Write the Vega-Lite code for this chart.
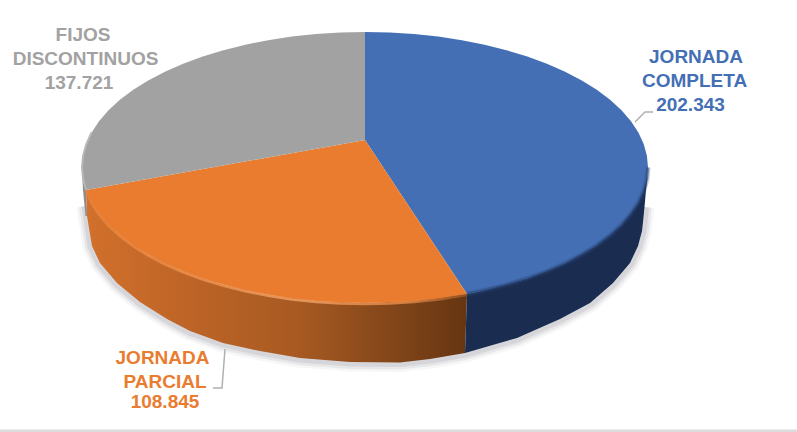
{"$schema":"https://vega.github.io/schema/vega-lite/v6.json","width":797,"height":432,"padding":0,"autosize":"none","background":"white","config":{"view":{"stroke":null}},
"datasets":{
"top":[
{"slice":"JORNADA COMPLETA","i":0,"x":365,"y":140},{"slice":"JORNADA COMPLETA","i":1,"x":365,"y":32},{"slice":"JORNADA COMPLETA","i":2,"x":389.7,"y":32.5},{"slice":"JORNADA COMPLETA","i":3,"x":414.1,"y":34},{"slice":"JORNADA COMPLETA","i":4,"x":438.2,"y":36.6},{"slice":"JORNADA COMPLETA","i":5,"x":461.8,"y":40.2},{"slice":"JORNADA COMPLETA","i":6,"x":484.6,"y":44.7},{"slice":"JORNADA COMPLETA","i":7,"x":506.5,"y":50.2},{"slice":"JORNADA COMPLETA","i":8,"x":527.3,"y":56.5},{"slice":"JORNADA COMPLETA","i":9,"x":546.9,"y":63.7},{"slice":"JORNADA COMPLETA","i":10,"x":565.1,"y":71.7},{"slice":"JORNADA COMPLETA","i":11,"x":581.8,"y":80.4},{"slice":"JORNADA COMPLETA","i":12,"x":596.8,"y":89.7},{"slice":"JORNADA COMPLETA","i":13,"x":610.1,"y":99.7},{"slice":"JORNADA COMPLETA","i":14,"x":621.5,"y":110.2},{"slice":"JORNADA COMPLETA","i":15,"x":631,"y":121.2},{"slice":"JORNADA COMPLETA","i":16,"x":638.4,"y":132.4},{"slice":"JORNADA COMPLETA","i":17,"x":643.7,"y":144},{"slice":"JORNADA COMPLETA","i":18,"x":646.9,"y":155.7},{"slice":"JORNADA COMPLETA","i":19,"x":648,"y":167.5},{"slice":"JORNADA COMPLETA","i":20,"x":646.9,"y":179.3},{"slice":"JORNADA COMPLETA","i":21,"x":643.7,"y":191},{"slice":"JORNADA COMPLETA","i":22,"x":638.4,"y":202.6},{"slice":"JORNADA COMPLETA","i":23,"x":631,"y":213.8},{"slice":"JORNADA COMPLETA","i":24,"x":621.5,"y":224.8},{"slice":"JORNADA COMPLETA","i":25,"x":610.1,"y":235.3},{"slice":"JORNADA COMPLETA","i":26,"x":596.8,"y":245.3},{"slice":"JORNADA COMPLETA","i":27,"x":581.8,"y":254.6},{"slice":"JORNADA COMPLETA","i":28,"x":565.1,"y":263.3},{"slice":"JORNADA COMPLETA","i":29,"x":546.9,"y":271.3},{"slice":"JORNADA COMPLETA","i":30,"x":527.3,"y":278.5},{"slice":"JORNADA COMPLETA","i":31,"x":506.5,"y":284.8},{"slice":"JORNADA COMPLETA","i":32,"x":484.6,"y":290.3},{"slice":"JORNADA COMPLETA","i":33,"x":467,"y":294},
{"slice":"JORNADA PARCIAL","i":0,"x":365,"y":140},{"slice":"JORNADA PARCIAL","i":1,"x":467,"y":294},{"slice":"JORNADA PARCIAL","i":2,"x":438.2,"y":298.4},{"slice":"JORNADA PARCIAL","i":3,"x":414.1,"y":301},{"slice":"JORNADA PARCIAL","i":4,"x":389.7,"y":302.5},{"slice":"JORNADA PARCIAL","i":5,"x":365,"y":303},{"slice":"JORNADA PARCIAL","i":6,"x":340.3,"y":302.5},{"slice":"JORNADA PARCIAL","i":7,"x":315.9,"y":301},{"slice":"JORNADA PARCIAL","i":8,"x":291.8,"y":298.4},{"slice":"JORNADA PARCIAL","i":9,"x":268.2,"y":294.8},{"slice":"JORNADA PARCIAL","i":10,"x":245.4,"y":290.3},{"slice":"JORNADA PARCIAL","i":11,"x":223.5,"y":284.8},{"slice":"JORNADA PARCIAL","i":12,"x":202.7,"y":278.5},{"slice":"JORNADA PARCIAL","i":13,"x":183.1,"y":271.3},{"slice":"JORNADA PARCIAL","i":14,"x":164.9,"y":263.3},{"slice":"JORNADA PARCIAL","i":15,"x":148.2,"y":254.6},{"slice":"JORNADA PARCIAL","i":16,"x":133.2,"y":245.3},{"slice":"JORNADA PARCIAL","i":17,"x":119.9,"y":235.3},{"slice":"JORNADA PARCIAL","i":18,"x":108.5,"y":224.8},{"slice":"JORNADA PARCIAL","i":19,"x":99,"y":213.8},{"slice":"JORNADA PARCIAL","i":20,"x":91.6,"y":202.6},{"slice":"JORNADA PARCIAL","i":21,"x":86,"y":190},
{"slice":"FIJOS DISCONTINUOS","i":0,"x":365,"y":140},{"slice":"FIJOS DISCONTINUOS","i":1,"x":86,"y":190},{"slice":"FIJOS DISCONTINUOS","i":2,"x":83.1,"y":179.3},{"slice":"FIJOS DISCONTINUOS","i":3,"x":82,"y":167.5},{"slice":"FIJOS DISCONTINUOS","i":4,"x":83.1,"y":155.7},{"slice":"FIJOS DISCONTINUOS","i":5,"x":86.3,"y":144},{"slice":"FIJOS DISCONTINUOS","i":6,"x":91.6,"y":132.4},{"slice":"FIJOS DISCONTINUOS","i":7,"x":99,"y":121.2},{"slice":"FIJOS DISCONTINUOS","i":8,"x":108.5,"y":110.2},{"slice":"FIJOS DISCONTINUOS","i":9,"x":119.9,"y":99.7},{"slice":"FIJOS DISCONTINUOS","i":10,"x":133.2,"y":89.7},{"slice":"FIJOS DISCONTINUOS","i":11,"x":148.2,"y":80.4},{"slice":"FIJOS DISCONTINUOS","i":12,"x":164.9,"y":71.7},{"slice":"FIJOS DISCONTINUOS","i":13,"x":183.1,"y":63.7},{"slice":"FIJOS DISCONTINUOS","i":14,"x":202.7,"y":56.5},{"slice":"FIJOS DISCONTINUOS","i":15,"x":223.5,"y":50.2},{"slice":"FIJOS DISCONTINUOS","i":16,"x":245.4,"y":44.7},{"slice":"FIJOS DISCONTINUOS","i":17,"x":268.2,"y":40.2},{"slice":"FIJOS DISCONTINUOS","i":18,"x":291.8,"y":36.6},{"slice":"FIJOS DISCONTINUOS","i":19,"x":315.9,"y":34},{"slice":"FIJOS DISCONTINUOS","i":20,"x":340.3,"y":32.5},{"slice":"FIJOS DISCONTINUOS","i":21,"x":365,"y":32}
],
"side":[
{"part":"blue","i":0,"x":648,"y":172},{"part":"blue","i":1,"x":646,"y":190},{"part":"blue","i":2,"x":644.5,"y":207},{"part":"blue","i":3,"x":643,"y":222},{"part":"blue","i":4,"x":642,"y":231},{"part":"blue","i":5,"x":638,"y":246},{"part":"blue","i":6,"x":630,"y":263},{"part":"blue","i":7,"x":613,"y":283},{"part":"blue","i":8,"x":590,"y":303},{"part":"blue","i":9,"x":560,"y":319},{"part":"blue","i":10,"x":517,"y":338},{"part":"blue","i":11,"x":465,"y":353},{"part":"blue","i":12,"x":467,"y":294},{"part":"blue","i":13,"x":484.6,"y":290.3},{"part":"blue","i":14,"x":527.3,"y":278.5},{"part":"blue","i":15,"x":565.1,"y":263.3},{"part":"blue","i":16,"x":596.8,"y":245.3},{"part":"blue","i":17,"x":621.5,"y":224.8},{"part":"blue","i":18,"x":638.4,"y":202.6},{"part":"blue","i":19,"x":646.9,"y":179.3},
{"part":"orange","i":0,"x":467,"y":294},{"part":"orange","i":1,"x":465,"y":353},{"part":"orange","i":2,"x":430,"y":359},{"part":"orange","i":3,"x":400,"y":362.5},{"part":"orange","i":4,"x":350,"y":362},{"part":"orange","i":5,"x":300,"y":358},{"part":"orange","i":6,"x":260,"y":351},{"part":"orange","i":7,"x":223,"y":343},{"part":"orange","i":8,"x":190,"y":331},{"part":"orange","i":9,"x":167,"y":319},{"part":"orange","i":10,"x":140,"y":302},{"part":"orange","i":11,"x":117,"y":283},{"part":"orange","i":12,"x":100,"y":263},{"part":"orange","i":13,"x":92,"y":246},{"part":"orange","i":14,"x":87,"y":216},{"part":"orange","i":15,"x":86,"y":190},{"part":"orange","i":16,"x":99,"y":213.8},{"part":"orange","i":17,"x":119.9,"y":235.3},{"part":"orange","i":18,"x":148.2,"y":254.6},{"part":"orange","i":19,"x":183.1,"y":271.3},{"part":"orange","i":20,"x":223.5,"y":284.8},{"part":"orange","i":21,"x":268.2,"y":294.8},{"part":"orange","i":22,"x":315.9,"y":301},{"part":"orange","i":23,"x":365,"y":303},{"part":"orange","i":24,"x":414.1,"y":301},
{"part":"gray","i":0,"x":82,"y":170},{"part":"gray","i":1,"x":83,"y":190},{"part":"gray","i":2,"x":85.5,"y":216},{"part":"gray","i":3,"x":87,"y":216},{"part":"gray","i":4,"x":86,"y":190}
],
"edge":[
{"i":2,"x":86,"y":206},{"i":3,"x":92,"y":246},{"i":4,"x":100,"y":263},{"i":5,"x":117,"y":283},{"i":6,"x":140,"y":302},{"i":7,"x":167,"y":319},{"i":8,"x":190,"y":331},{"i":9,"x":223,"y":343},{"i":10,"x":260,"y":351},{"i":11,"x":300,"y":358},{"i":12,"x":350,"y":362},{"i":13,"x":400,"y":362.5},{"i":14,"x":430,"y":359},{"i":15,"x":465,"y":353},{"i":16,"x":517,"y":338},{"i":17,"x":560,"y":319},{"i":18,"x":590,"y":303},{"i":19,"x":613,"y":283},{"i":20,"x":630,"y":263},{"i":21,"x":638,"y":246},{"i":22,"x":642,"y":231},{"i":23,"x":643,"y":222},{"i":24,"x":644.5,"y":207}
],
"rim":[
{"part":"blue","i":0,"x":648,"y":167.5},{"part":"blue","i":1,"x":646.9,"y":179.3},{"part":"blue","i":2,"x":643.7,"y":191},{"part":"blue","i":3,"x":638.4,"y":202.6},{"part":"blue","i":4,"x":631,"y":213.8},{"part":"blue","i":5,"x":621.5,"y":224.8},{"part":"blue","i":6,"x":610.1,"y":235.3},{"part":"blue","i":7,"x":596.8,"y":245.3},{"part":"blue","i":8,"x":581.8,"y":254.6},{"part":"blue","i":9,"x":565.1,"y":263.3},{"part":"blue","i":10,"x":546.9,"y":271.3},{"part":"blue","i":11,"x":527.3,"y":278.5},{"part":"blue","i":12,"x":506.5,"y":284.8},{"part":"blue","i":13,"x":484.6,"y":290.3},{"part":"blue","i":14,"x":467,"y":294},
{"part":"orange","i":0,"x":467,"y":295},{"part":"orange","i":1,"x":438.2,"y":299.4},{"part":"orange","i":2,"x":414.1,"y":302},{"part":"orange","i":3,"x":389.7,"y":303.5},{"part":"orange","i":4,"x":365,"y":304},{"part":"orange","i":5,"x":340.3,"y":303.5},{"part":"orange","i":6,"x":315.9,"y":302},{"part":"orange","i":7,"x":291.8,"y":299.4},{"part":"orange","i":8,"x":268.2,"y":295.8},{"part":"orange","i":9,"x":245.4,"y":291.3},{"part":"orange","i":10,"x":223.5,"y":285.8},{"part":"orange","i":11,"x":202.7,"y":279.5},{"part":"orange","i":12,"x":183.1,"y":272.3},{"part":"orange","i":13,"x":164.9,"y":264.3},{"part":"orange","i":14,"x":148.2,"y":255.6},{"part":"orange","i":15,"x":133.2,"y":246.3},{"part":"orange","i":16,"x":119.9,"y":236.3},{"part":"orange","i":17,"x":108.5,"y":225.8},{"part":"orange","i":18,"x":99,"y":214.8},{"part":"orange","i":19,"x":91.6,"y":203.6},{"part":"orange","i":20,"x":86,"y":191},
{"part":"gray","i":0,"x":86,"y":190},{"part":"gray","i":1,"x":83.1,"y":179.3},{"part":"gray","i":2,"x":82,"y":167.5},{"part":"gray","i":3,"x":83.1,"y":155.7},{"part":"gray","i":4,"x":86.3,"y":144},{"part":"gray","i":5,"x":91.6,"y":132.4}
],
"leaders":[
{"slice":"JORNADA COMPLETA","i":0,"x":635,"y":122},{"slice":"JORNADA COMPLETA","i":1,"x":645,"y":112},{"slice":"JORNADA COMPLETA","i":2,"x":653,"y":112},
{"slice":"JORNADA PARCIAL","i":0,"x":225,"y":349},{"slice":"JORNADA PARCIAL","i":1,"x":222,"y":388},{"slice":"JORNADA PARCIAL","i":2,"x":213,"y":388}
],
"labels":[
{"slice":"FIJOS DISCONTINUOS","text":"FIJOS","x":83,"y":35},{"slice":"FIJOS DISCONTINUOS","text":"DISCONTINUOS","x":85.5,"y":59},{"slice":"FIJOS DISCONTINUOS","text":"137.721","x":79,"y":83},
{"slice":"JORNADA COMPLETA","text":"JORNADA","x":696,"y":57},{"slice":"JORNADA COMPLETA","text":"COMPLETA","x":694.5,"y":81},{"slice":"JORNADA COMPLETA","text":"202.343","x":690.5,"y":105},
{"slice":"JORNADA PARCIAL","text":"JORNADA","x":162.5,"y":358},{"slice":"JORNADA PARCIAL","text":"PARCIAL","x":165,"y":382},{"slice":"JORNADA PARCIAL","text":"108.845","x":165,"y":402}
],
"band":[{"x":0,"x2":797,"y":431}]
},
"encoding":{
"x":{"field":"x","type":"quantitative","scale":{"domain":[0,797]},"axis":null},
"y":{"field":"y","type":"quantitative","scale":{"domain":[432,0]},"axis":null},
"order":{"field":"i","type":"quantitative"}
},
"resolve":{"scale":{"color":"shared"}},
"layer":[
{"data":{"name":"band"},"mark":{"type":"rule","stroke":"#dcdcdc","strokeWidth":3},"encoding":{"order":null,"x2":{"field":"x2"}}},
{"data":{"name":"edge"},"mark":{"type":"line","stroke":"#9a9aa2","strokeWidth":19,"opacity":0.09}},
{"data":{"name":"edge"},"mark":{"type":"line","stroke":"#9a9aa2","strokeWidth":14,"opacity":0.16}},
{"data":{"name":"edge"},"mark":{"type":"line","stroke":"#9a9aa2","strokeWidth":9,"opacity":0.22}},
{"data":{"name":"side"},"transform":[{"filter":"datum.part==='gray'"}],"mark":{"type":"line","fill":"#8c8c8c","strokeOpacity":0}},
{"data":{"name":"side"},"transform":[{"filter":"datum.part==='orange'"}],"mark":{"type":"line","strokeOpacity":0,"fill":{"gradient":"linear","x1":0,"x2":1,"y1":0,"y2":0,"stops":[{"offset":0,"color":"#d2702c"},{"offset":0.3,"color":"#bb6326"},{"offset":0.55,"color":"#a85a22"},{"offset":0.8,"color":"#834619"},{"offset":1,"color":"#663512"}]}}},
{"data":{"name":"side"},"transform":[{"filter":"datum.part==='blue'"}],"mark":{"type":"line","fill":"#1a2c50","strokeOpacity":0}},
{"data":{"name":"top"},"mark":{"type":"line","filled":true,"strokeOpacity":0},"encoding":{"color":{"field":"slice","type":"nominal","legend":null,"scale":{"domain":["JORNADA COMPLETA","JORNADA PARCIAL","FIJOS DISCONTINUOS"],"range":["#446fb5","#ea7c2f","#a2a2a2"]}}}},
{"data":{"name":"rim"},"transform":[{"filter":"datum.part==='blue'"}],"mark":{"type":"line","stroke":"#2e4c82","strokeWidth":5,"opacity":0.3}},
{"data":{"name":"rim"},"transform":[{"filter":"datum.part==='blue'"}],"mark":{"type":"line","stroke":"#26406f","strokeWidth":2.5,"opacity":0.5}},
{"data":{"name":"rim"},"transform":[{"filter":"datum.part==='orange'"}],"mark":{"type":"line","strokeWidth":2.5,"opacity":0.8,"stroke":{"gradient":"linear","x1":0,"x2":1,"y1":0,"y2":0,"stops":[{"offset":0,"color":"#e8823a"},{"offset":0.55,"color":"#f5a468"},{"offset":0.85,"color":"#e88a48"},{"offset":1,"color":"#9a5520"}]}}},
{"data":{"name":"rim"},"transform":[{"filter":"datum.part==='gray'"}],"mark":{"type":"line","stroke":"#b8b8b8","strokeWidth":2}},
{"data":{"name":"leaders"},"mark":{"type":"line","stroke":"#b0b0b0","strokeWidth":1.5},"encoding":{"detail":{"field":"slice"}}},
{"data":{"name":"labels"},"mark":{"type":"text","font":"Liberation Sans","fontWeight":"bold","fontSize":19,"align":"center","baseline":"middle"},"encoding":{"order":null,"text":{"field":"text"},"color":{"field":"slice","type":"nominal","legend":null,"scale":{"domain":["JORNADA COMPLETA","JORNADA PARCIAL","FIJOS DISCONTINUOS"],"range":["#446fb5","#ea7c2f","#a2a2a2"]}}}}
]}
